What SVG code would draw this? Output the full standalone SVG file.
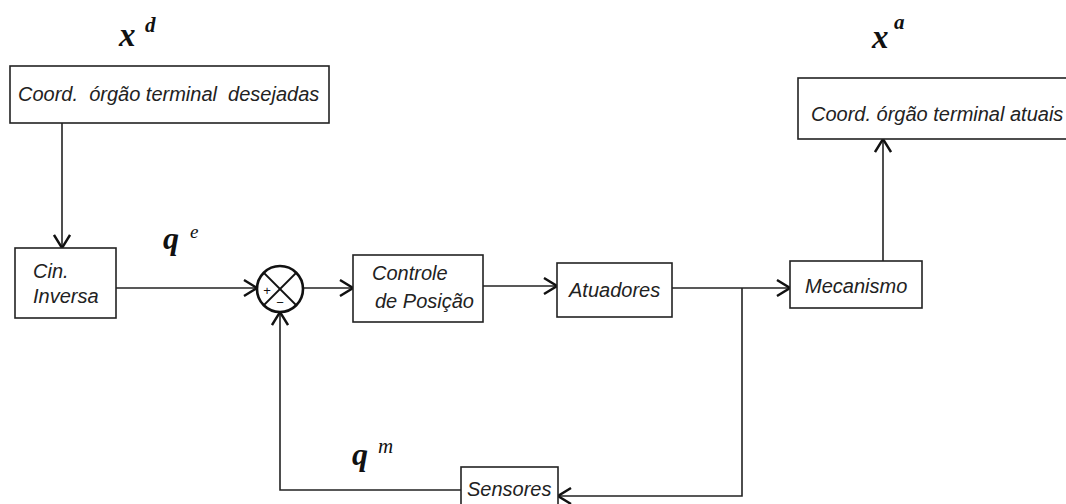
<svg xmlns="http://www.w3.org/2000/svg" width="1066" height="504" viewBox="0 0 1066 504">
  <style>
    .box { fill: #ffffff; stroke: #222222; stroke-width: 1.6; }
    .lbl { font-family: "Liberation Sans", Arial, sans-serif; font-style: italic; font-size: 20px; fill: #222222; }
    .wire { fill: none; stroke: #222222; stroke-width: 1.6; }
    .sym { font-family: "Liberation Serif", "Times New Roman", serif; font-style: italic; font-weight: bold; fill: #111111; }
    .sup { font-family: "Liberation Serif", "Times New Roman", serif; font-style: italic; fill: #111111; }
    .sign { font-family: "Liberation Sans", Arial, sans-serif; font-size: 13px; fill: #111111; }
  </style>
  <defs>
    <marker id="arrow" viewBox="0 0 14 18" refX="14" refY="9" markerWidth="14" markerHeight="18" markerUnits="userSpaceOnUse" orient="auto">
      <path d="M1,1 L14,9 L1,17" fill="none" stroke="#111111" stroke-width="2.4"/>
    </marker>
  </defs>
  <rect width="1066" height="504" fill="#ffffff"/>

  <!-- signal symbols -->
  <text class="sym" x="119" y="46" font-size="33">x</text>
  <text class="sym" x="145" y="32" font-size="21">d</text>
  <text class="sym" x="872" y="48" font-size="33">x</text>
  <text class="sym" x="894" y="29" font-size="21">a</text>
  <text class="sym" x="163" y="249" font-size="32">q</text>
  <text class="sup" x="190" y="238" font-size="19">e</text>
  <text class="sym" x="352" y="465" font-size="32">q</text>
  <text class="sup" x="378" y="453" font-size="21">m</text>

  <!-- connectors -->
  <g id="connectors">
    <line class="wire" x1="62" y1="123" x2="62" y2="248" marker-end="url(#arrow)"/>
    <line class="wire" x1="116" y1="288" x2="257" y2="288" marker-end="url(#arrow)"/>
    <line class="wire" x1="303" y1="288" x2="353" y2="288" marker-end="url(#arrow)"/>
    <line class="wire" x1="483" y1="286" x2="557" y2="286" marker-end="url(#arrow)"/>
    <line class="wire" x1="672" y1="288" x2="790" y2="288" marker-end="url(#arrow)"/>
    <polyline class="wire" points="742,288 742,496 558,496" marker-end="url(#arrow)"/>
    <polyline class="wire" points="461,490 280,490 280,312" marker-end="url(#arrow)"/>
    <line class="wire" x1="883" y1="261" x2="883" y2="139" marker-end="url(#arrow)"/>
  </g>

  <!-- blocks -->
  <g id="coord-desejadas">
    <rect class="box" x="10" y="66" width="319" height="57"/>
    <text class="lbl" x="18" y="101" xml:space="preserve">Coord.  órgão terminal  desejadas</text>
  </g>
  <g id="coord-atuais">
    <rect class="box" x="798" y="78" width="280" height="61"/>
    <text class="lbl" x="811" y="121">Coord. órgão terminal atuais</text>
  </g>
  <g id="cin-inversa">
    <rect class="box" x="15" y="248" width="101" height="70"/>
    <text class="lbl" x="33" y="278">Cin.</text>
    <text class="lbl" x="33" y="303">Inversa</text>
  </g>
  <g id="somador">
    <circle cx="280" cy="289" r="23" fill="#ffffff" stroke="#111111" stroke-width="2.6"/>
    <line x1="264" y1="273" x2="296" y2="305" stroke="#111111" stroke-width="1.8"/>
    <line x1="296" y1="273" x2="264" y2="305" stroke="#111111" stroke-width="1.8"/>
    <text class="sign" x="267" y="295" text-anchor="middle">+</text>
    <text class="sign" x="280" y="307" text-anchor="middle">−</text>
  </g>
  <g id="controle">
    <rect class="box" x="353" y="255" width="130" height="67"/>
    <text class="lbl" x="372" y="280">Controle</text>
    <text class="lbl" x="375" y="308">de Posição</text>
  </g>
  <g id="atuadores">
    <rect class="box" x="557" y="263" width="115" height="54"/>
    <text class="lbl" x="569" y="297">Atuadores</text>
  </g>
  <g id="mecanismo">
    <rect class="box" x="790" y="261" width="132" height="47"/>
    <text class="lbl" x="805" y="293">Mecanismo</text>
  </g>
  <g id="sensores">
    <rect class="box" x="461" y="467" width="97" height="45"/>
    <text class="lbl" x="467" y="496">Sensores</text>
  </g>
</svg>
